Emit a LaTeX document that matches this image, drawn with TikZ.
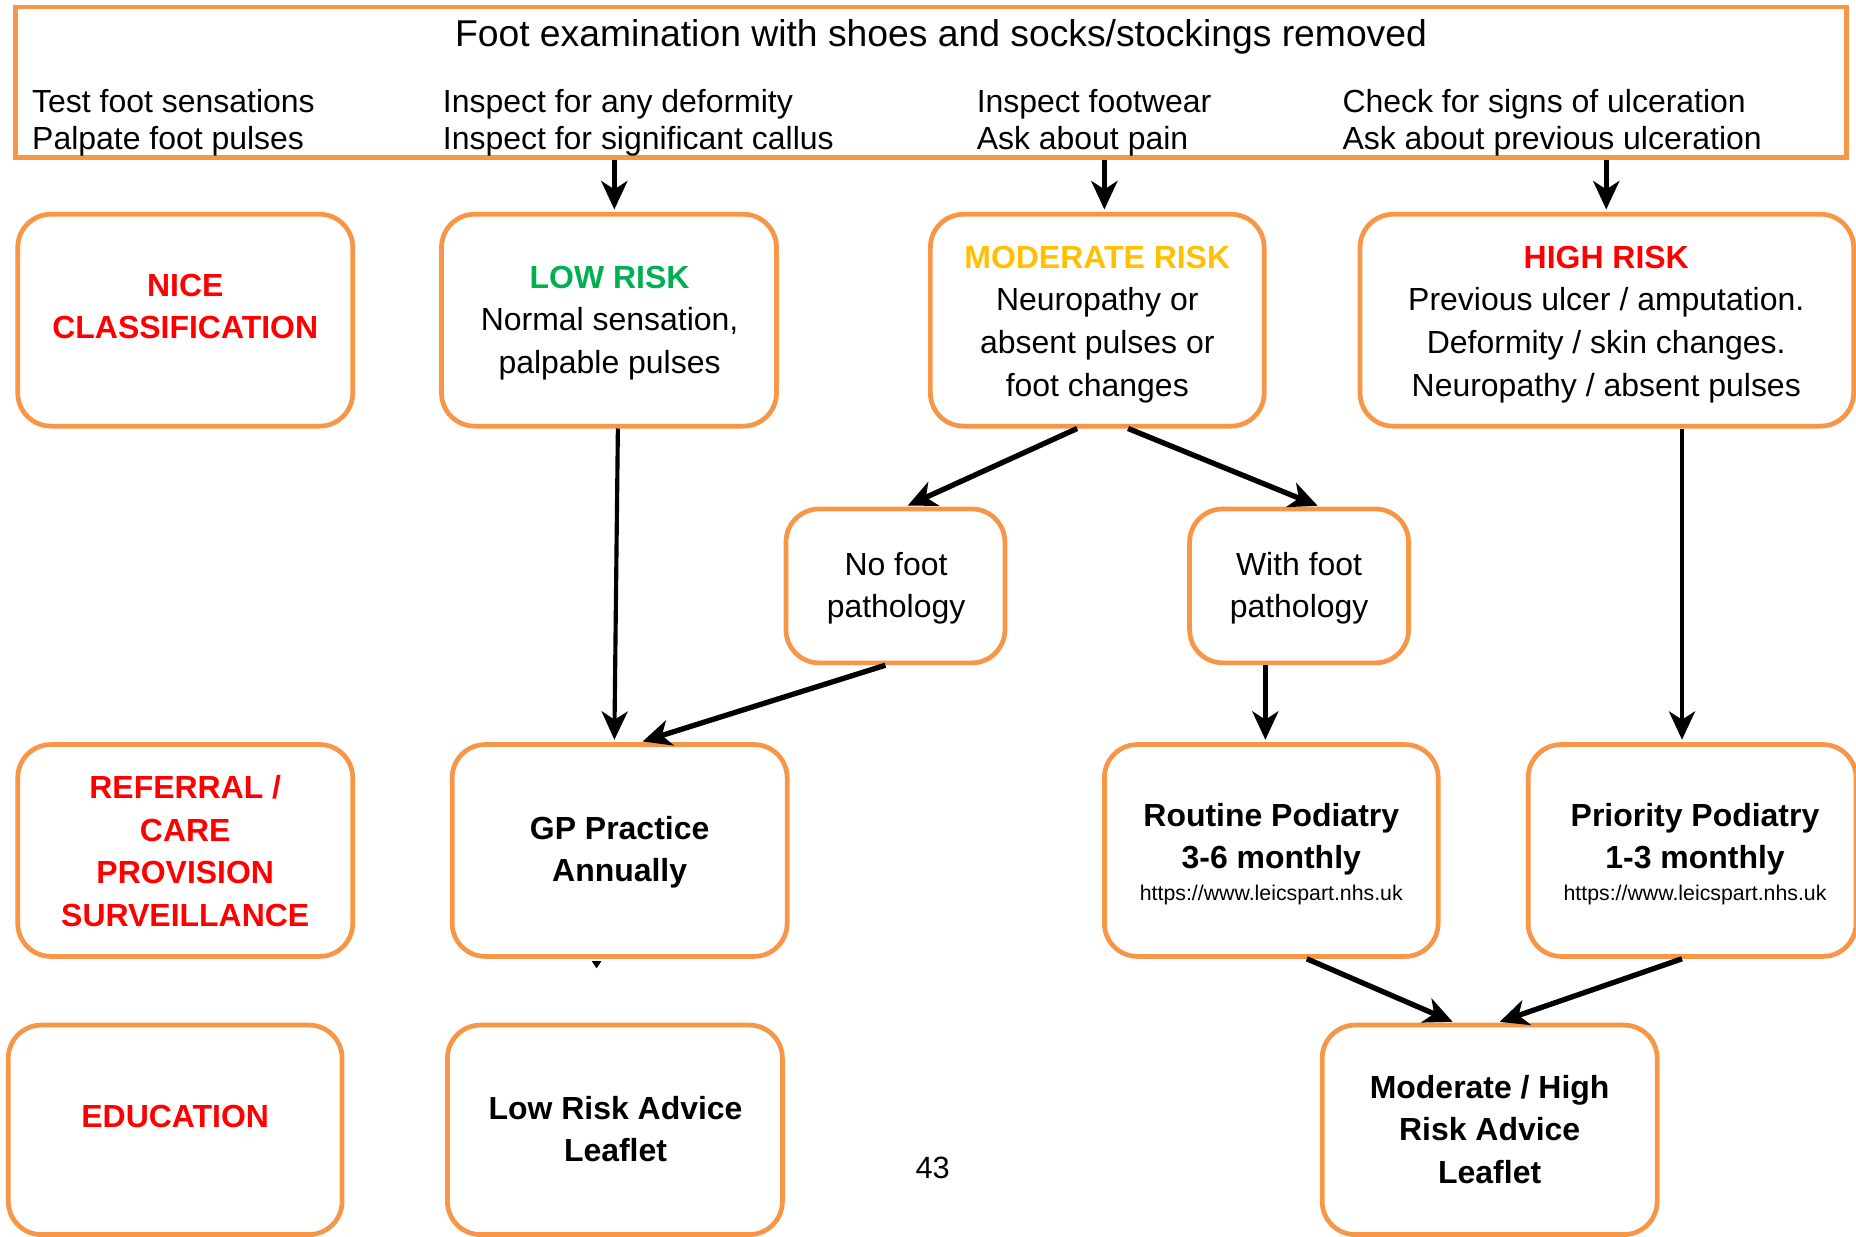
\documentclass[tikz,border=0pt]{standalone}
\usepackage{fontspec}
\setmainfont{Liberation Sans}
\usetikzlibrary{arrows.meta,calc}
\definecolor{boxorange}{HTML}{F79646}
\definecolor{riskred}{HTML}{FF0000}
\definecolor{riskgreen}{HTML}{00B050}
\definecolor{riskgold}{HTML}{FFC000}
\begin{document}
\begin{tikzpicture}[x=1pt,y=-1pt,
  box/.style={draw=boxorange,line width=4pt,rounded corners=28pt,inner sep=0pt},
  txt/.style={align=center,inner sep=0pt,font=\fontsize{27}{36}\selectfont},
  btxt/.style={align=center,inner sep=0pt,font=\fontsize{27}{36}\selectfont\bfseries},
  rowtxt/.style={anchor=west,align=left,inner sep=0pt,font=\fontsize{27}{31}\selectfont},
  urltxt/.style={inner sep=0pt,font=\fontsize{18}{22}\selectfont},
  arr/.style={line width=4.5pt,-{Stealth[length=24pt,width=22pt,inset=7pt]},shorten >=2pt},
  longarr/.style={arr,line width=3.5pt}]
\useasboundingbox (0,0) rectangle (1568,1045);

% top examination box
\node[box,sharp corners,minimum width=1547pt,minimum height=127pt] (exam) at (786.5,69.5) {};
\node[inner sep=0pt,font=\fontsize{31.5}{36}\selectfont] (title) at (795,31) {Foot examination with shoes and socks/stockings removed};
\node[rowtxt] (c1) at (27,103.5) {Test foot sensations\\Palpate foot pulses};
\node[rowtxt] (c2) at (374,103.5) {Inspect for any deformity\\Inspect for significant callus};
\node[rowtxt] (c3) at (825,103.5) {Inspect footwear\\Ask about pain};
\node[rowtxt] (c4) at (1134,103.5) {Check for signs of ulceration\\Ask about previous ulceration};

% row 1
\node[box,minimum width=283pt,minimum height=179pt] (nice) at (156.5,270.5) {};
\node[btxt,text=riskred] (nicetxt) at (156.5,259) {NICE\\CLASSIFICATION};
\node[box,minimum width=283pt,minimum height=179pt] (low) at (514.5,270.5) {};
\node[txt] (lowtxt) at (515,273) {\textcolor{riskgreen}{\textbf{LOW RISK}}\\Normal sensation,\\palpable pulses};
\node[box,minimum width=282pt,minimum height=179pt] (mod) at (927,270.5) {};
\node[txt] (modtxt) at (927,274) {\textcolor{riskgold}{\textbf{MODERATE RISK}}\\Neuropathy or\\absent pulses or\\foot changes};
\node[box,minimum width=417pt,minimum height=179pt] (high) at (1357.5,270.5) {};
\node[txt] (hightxt) at (1357,274) {\textcolor{riskred}{\textbf{HIGH RISK}}\\Previous ulcer / amputation.\\Deformity / skin changes.\\Neuropathy / absent pulses};

% row 2
\node[box,minimum width=185pt,minimum height=130pt] (nofoot) at (756.5,495) {};
\node[txt] (nofoottxt) at (757,497) {No foot\\pathology};
\node[box,minimum width=185pt,minimum height=130pt] (withfoot) at (1097.5,495) {};
\node[txt] (withfoottxt) at (1097.5,497) {With foot\\pathology};

% row 3
\node[box,minimum width=283pt,minimum height=179pt] (ref) at (156.5,718.5) {};
\node[btxt,text=riskred] (reftxt) at (156.5,719) {REFERRAL /\\CARE\\PROVISION\\SURVEILLANCE};
\node[box,minimum width=283pt,minimum height=179pt] (gp) at (523.5,718.5) {};
\node[btxt] (gptxt) at (523.5,720) {GP Practice\\Annually};
\node[box,minimum width=282pt,minimum height=179pt] (routine) at (1074,718.5) {};
\node[btxt] (routinetxt) at (1074,709) {Routine Podiatry\\3-6 monthly};
\node[urltxt] (routineurl) at (1074,756) {https://www.leicspart.nhs.uk};
\node[box,minimum width=277pt,minimum height=179pt] (priority) at (1429.5,718.5) {};
\node[btxt] (prioritytxt) at (1432,709) {Priority Podiatry\\1-3 monthly};
\node[urltxt] (priorityurl) at (1432,756) {https://www.leicspart.nhs.uk};

% row 4
\node[box,minimum width=282pt,minimum height=177pt] (edu) at (148,954.5) {};
\node[btxt,text=riskred] (edutxt) at (148,943) {EDUCATION};
\node[box,minimum width=283pt,minimum height=177pt] (lowleaf) at (519.5,954.5) {};
\node[btxt] (lowleaftxt) at (520,954) {Low Risk Advice\\Leaflet};
\node[box,minimum width=283pt,minimum height=177pt] (modleaf) at (1258.5,954.5) {};
\node[btxt] (modleaftxt) at (1258.5,954) {Moderate / High\\Risk Advice\\Leaflet};

\node[inner sep=0pt,font=\fontsize{26}{30}\selectfont] (page) at (788,987) {43};

% connectors
\draw[arr] ([xshift=-267.5pt]exam.south) -- ([xshift=4.5pt]low.north);
\draw[arr] ([xshift=146.5pt]exam.south) -- ([xshift=6pt]mod.north);
\draw[arr] ([xshift=570.5pt]exam.south) -- ([xshift=-0.5pt]high.north);
\draw[longarr] ([xshift=7.5pt]low.south) -- ([xshift=-4.5pt]gp.north);
\draw[arr] ([xshift=-17pt]mod.south) -- ([xshift=8.5pt]nofoot.north);
\draw[arr] ([xshift=26pt]mod.south) -- ([xshift=17.5pt]withfoot.north);
\draw[arr] ([xshift=-8.5pt]nofoot.south) -- ([xshift=17.5pt]gp.north);
\draw[arr] ([xshift=-28.5pt]withfoot.south) -- ([xshift=-5pt]routine.north);
\draw[longarr] ([xshift=63.5pt]high.south) -- ([xshift=-8.5pt]priority.north);
\draw[arr] ([xshift=30pt]routine.south) -- ([xshift=-29.5pt]modleaf.north);
\draw[arr] ([xshift=-8.5pt]priority.south) -- ([xshift=6.5pt]modleaf.north);
\fill ([xshift=-23.5pt,yshift=-2pt]gp.south) -- ++(8,0) -- ++(-4,6) -- cycle;
\end{tikzpicture}
\end{document}
